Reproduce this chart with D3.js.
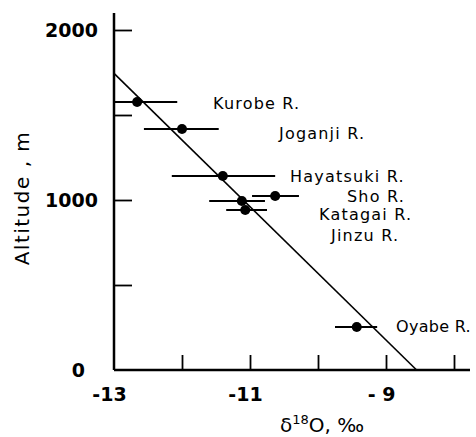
<!DOCTYPE html>
<html><head><meta charset="utf-8">
<script src="https://cdn.jsdelivr.net/npm/d3@7"></script>
<style>body{margin:0;background:#fff}svg{display:block}</style>
</head><body>
<svg id="c" width="476" height="437"></svg>
<script>
// data
const rivers   = ["Kurobe R.","Joganji R.","Hayatsuki R.","Sho R.","Katagai R.","Jinzu R.","Oyabe R."];
const delta18O = [-12.66, -12.0, -11.40, -10.63, -11.12, -11.07, -9.43];
const altitude = [1576, 1418, 1141, 1024, 994, 941, 253];
const deltaLo  = [-13.0, -12.56, -12.15, -10.97, -11.60, -11.35, -9.75];
const deltaHi  = [-12.07, -11.46, -10.63, -10.28, -10.78, -10.75, -9.13];
const fitX = [-13, -8.55];
const fitY = [1745, 0];
const xTicks = [-13, -12, -11, -10, -9, -8];
const xTickLabels = {"-13":"-13","-11":"-11","-9":"- 9"};
const yTicks = [0, 500, 1000, 1500, 2000];
const yTickLabels = {"0":"0","1000":"1000","2000":"2000"};

// layout
const labelPos = [[213,103],[279,133],[290,176],[347,196],[319,214],[331,235],[396,326]];

const svg = d3.select("#c");
const x = d3.scaleLinear().domain([-13,-8]).range([114,454]);
const y = d3.scaleLinear().domain([0,2000]).range([370,30]);
const font = "'DejaVu Sans', sans-serif";

// axes lines
svg.append("line").attr("x1",x(-13)).attr("x2",470).attr("y1",y(0)).attr("y2",y(0))
  .attr("stroke","#000").attr("stroke-width",2.5);
svg.append("line").attr("x1",x(-13)).attr("x2",x(-13)).attr("y1",y(0)).attr("y2",13)
  .attr("stroke","#000").attr("stroke-width",2.5);

// x axis ticks (inward) via d3 axis
const gx = svg.append("g").attr("transform",`translate(0,${y(0)})`)
  .call(d3.axisTop(x).tickValues(xTicks.slice(1)).tickSize(15).tickFormat(""));
gx.select(".domain").remove();
gx.selectAll(".tick line").attr("stroke","#000").attr("stroke-width",1.8);
const gxl = svg.append("g").attr("transform",`translate(0,${y(0)})`)
  .call(d3.axisBottom(x).tickValues(Object.keys(xTickLabels).map(Number)).tickSize(0)
    .tickFormat(d=>xTickLabels[String(d)]));
gxl.select(".domain").remove();
gxl.selectAll("text").attr("font-family",font).attr("font-weight","bold")
  .attr("font-size",19).attr("fill","#000").attr("dy","1.45em").attr("dx",-5);

// y axis ticks (inward)
const gy = svg.append("g").attr("transform",`translate(${x(-13)},0)`)
  .call(d3.axisRight(y).tickValues(yTicks.slice(1)).tickSize(18).tickFormat(""));
gy.select(".domain").remove();
gy.selectAll(".tick line").attr("stroke","#000").attr("stroke-width",1.8);
const gyl = svg.append("g").attr("transform",`translate(${x(-13)-13},0)`)
  .call(d3.axisLeft(y).tickValues(Object.keys(yTickLabels).map(Number)).tickSize(0)
    .tickFormat(d=>yTickLabels[String(d)]));
gyl.select(".domain").remove();
gyl.selectAll("text").attr("font-family",font).attr("font-weight","bold")
  .attr("font-size",19).attr("fill","#000")
  .attr("dx",d=>d===0?-13:0).attr("dy","0.35em");

// fit line
svg.append("line").attr("x1",x(fitX[0])).attr("y1",y(fitY[0]))
  .attr("x2",x(fitX[1])).attr("y2",y(fitY[1]))
  .attr("stroke","#000").attr("stroke-width",1.6);

// error bars & points
const idx = d3.range(rivers.length);
svg.append("g").selectAll("line").data(idx).join("line")
  .attr("x1",i=>x(deltaLo[i])).attr("x2",i=>x(deltaHi[i]))
  .attr("y1",i=>y(altitude[i])).attr("y2",i=>y(altitude[i]))
  .attr("stroke","#000").attr("stroke-width",2);
svg.append("g").selectAll("circle").data(idx).join("circle")
  .attr("cx",i=>x(delta18O[i])).attr("cy",i=>y(altitude[i])).attr("r",5).attr("fill","#000");

// labels
svg.append("g").selectAll("text").data(idx).join("text")
  .attr("x",i=>labelPos[i][0]).attr("y",i=>labelPos[i][1]).attr("dy","0.36em")
  .attr("font-family",font).attr("font-size",16).attr("letter-spacing",i=>i===6?0.3:1.2)
  .attr("fill","#000").text(i=>rivers[i]);

// axis titles
svg.append("text").attr("transform","translate(29,198) rotate(-90)")
  .attr("text-anchor","middle").attr("font-family",font).attr("font-size",20)
  .attr("letter-spacing",1.5).attr("fill","#000").text("Altitude , m");
const t = svg.append("text").attr("x",322).attr("y",432).attr("text-anchor","middle")
  .attr("font-family",font).attr("font-size",20).attr("fill","#000");
t.append("tspan").text("δ");
t.append("tspan").attr("font-size",13).attr("dy",-8).text("18");
t.append("tspan").attr("dy",8).text("O, ‰");
</script>
</body></html>
